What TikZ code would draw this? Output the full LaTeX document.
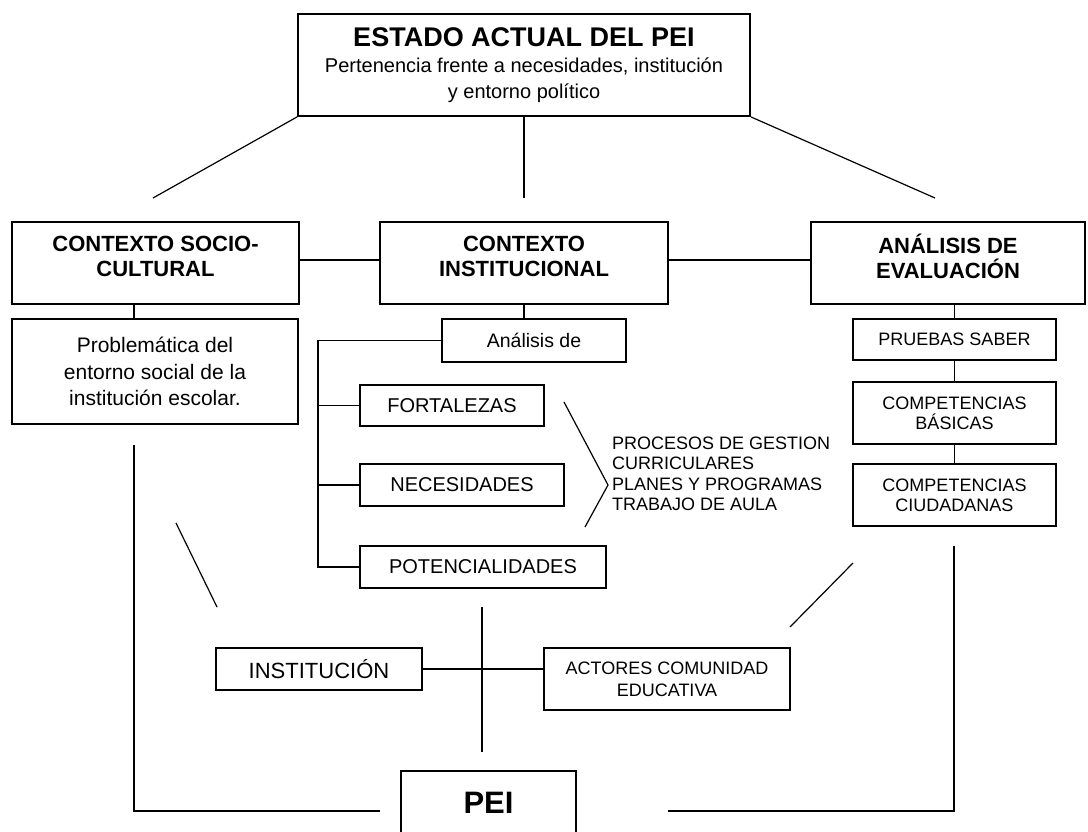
\documentclass[tikz,border=0pt]{standalone}
\usepackage{fontspec}
\setmainfont{Liberation Sans}
\usetikzlibrary{positioning,calc}
\newcommand\fnt[2]{\fontsize{#1}{#2}\selectfont}
\tikzset{
  caja/.style={draw, line width=1.8pt, inner sep=0pt, align=center},
  conector/.style={line width=1.8pt},
  fino/.style={line width=1.2pt},
}

\begin{document}
\begin{tikzpicture}[x=1pt, y=-1pt]
  \useasboundingbox (0,0) rectangle (1088,831);
  % primera fila
  \node[caja, minimum width=452pt, minimum height=102pt, font=\fnt{20}{26}] (estado) at (524,65)
     {{\fnt{27}{30}\bfseries ESTADO ACTUAL DEL PEI}\\Pertenencia frente a necesidades, institución\\y entorno político};
  \node[caja, minimum width=287pt, minimum height=82pt, font=\fnt{22}{25}\bfseries, text depth=14pt] (socio) at (155.5,263) {CONTEXTO SOCIO-\\CULTURAL};
  \node[caja, minimum width=288pt, minimum height=82pt, font=\fnt{22}{25}\bfseries, text depth=14pt] (inst) at (524,263) {CONTEXTO\\INSTITUCIONAL};
  \node[caja, minimum width=274pt, minimum height=82pt, font=\fnt{22}{25}\bfseries, text depth=14pt] (eval) at (948,263) {ANÁLISIS DE\\EVALUACIÓN};
  \coordinate (tA) at (153,198);
  \coordinate (tB) at (524,198);
  \coordinate (tC) at (935,198);
  \draw[fino] (estado.south west) -- (tA);
  \draw[fino] (estado.south) -- (tB);
  \draw[fino] (estado.south east) -- (tC);
  \draw[conector] (socio.east |- 0,260) -- (inst.west |- 0,260);
  \draw[conector] (inst.east |- 0,260) -- (eval.west |- 0,260);
  % columna izquierda
  \node[caja, minimum width=286pt, minimum height=105pt, font=\fnt{21}{26.5}] (probl) at (155,371.5) {Problemática del\\entorno social de la\\institución escolar.};
  \draw[conector] (socio.south -| 134,0) -- (probl.north -| 134,0);
  % columna central
  \node[caja, minimum width=184pt, minimum height=43pt, font=\fnt{19.5}{22}] (analisis) at (534,340.5) {Análisis de};
  \node[caja, minimum width=184pt, minimum height=41pt, font=\fnt{20}{22}] (fort) at (452,405.5) {FORTALEZAS};
  \node[caja, minimum width=204pt, minimum height=42pt, font=\fnt{20}{22}] (nec) at (462,485) {NECESIDADES};
  \node[caja, minimum width=246pt, minimum height=42pt, font=\fnt{20}{22}] (pot) at (483,567) {POTENCIALIDADES};
  \coordinate (eje) at (318,567);
  \draw[conector] (inst.south) -- (inst.south |- analisis.north);
  \draw[conector] (analisis.west) -| (eje) -- (pot.west);
  \draw[conector] (fort.west) -- (fort.west -| eje);
  \draw[conector] (nec.west) -- (nec.west -| eje);
  \coordinate (vA) at (564,402);
  \coordinate (vB) at (608,485);
  \coordinate (vC) at (585,527);
  \draw[fino] (vA) -- (vB) -- (vC);
  \node[anchor=west, align=left, inner sep=0pt, font=\fnt{18}{20.5}] (procesos) at (612,474)
     {PROCESOS DE GESTION\\CURRICULARES\\PLANES Y PROGRAMAS\\TRABAJO DE AULA};
  % columna derecha
  \node[caja, minimum width=203pt, minimum height=41pt, font=\fnt{18}{20}] (pruebas) at (954.5,339.5) {PRUEBAS SABER};
  \node[caja, minimum width=203pt, minimum height=62pt, font=\fnt{18}{20}] (basicas) at (954.5,413) {COMPETENCIAS\\BÁSICAS};
  \node[caja, minimum width=203pt, minimum height=62pt, font=\fnt{18}{20}] (ciud) at (954.5,495) {COMPETENCIAS\\CIUDADANAS};
  \draw[conector] (eval.south -| pruebas.north) -- (pruebas.north);
  \draw[conector] (pruebas.south) -- (basicas.north);
  \draw[conector] (basicas.south) -- (ciud.north);
  % parte inferior
  \node[caja, minimum width=206pt, minimum height=42pt, font=\fnt{22}{24}] (instit) at (319,669) {INSTITUCIÓN};
  \node[caja, minimum width=246pt, minimum height=62pt, font=\fnt{18}{22}] (actores) at (667,679) {ACTORES COMUNIDAD\\EDUCATIVA};
  \node[caja, minimum width=175pt, minimum height=64pt, font=\fnt{31}{34}\bfseries] (pei) at (488.5,803) {PEI};
  \draw[conector] (instit.east) -- (instit.east -| actores.west);
  \coordinate (cA) at (482,607);
  \coordinate (cB) at (482,752);
  \draw[fino] (cA) -- (cB);
  \coordinate (iA) at (176,523);
  \coordinate (iB) at (217,607);
  \draw[fino] (iA) -- (iB);
  \coordinate (dA) at (853,563);
  \coordinate (dB) at (790,627);
  \draw[fino] (dA) -- (dB);
  \coordinate (bA) at (134,445);
  \coordinate (bB) at (380,811);
  \coordinate (bC) at (954,546);
  \coordinate (bD) at (668,811);
  \draw[conector] (bA) |- (bB);
  \draw[conector] (bC) |- (bD);
\end{tikzpicture}
\end{document}
